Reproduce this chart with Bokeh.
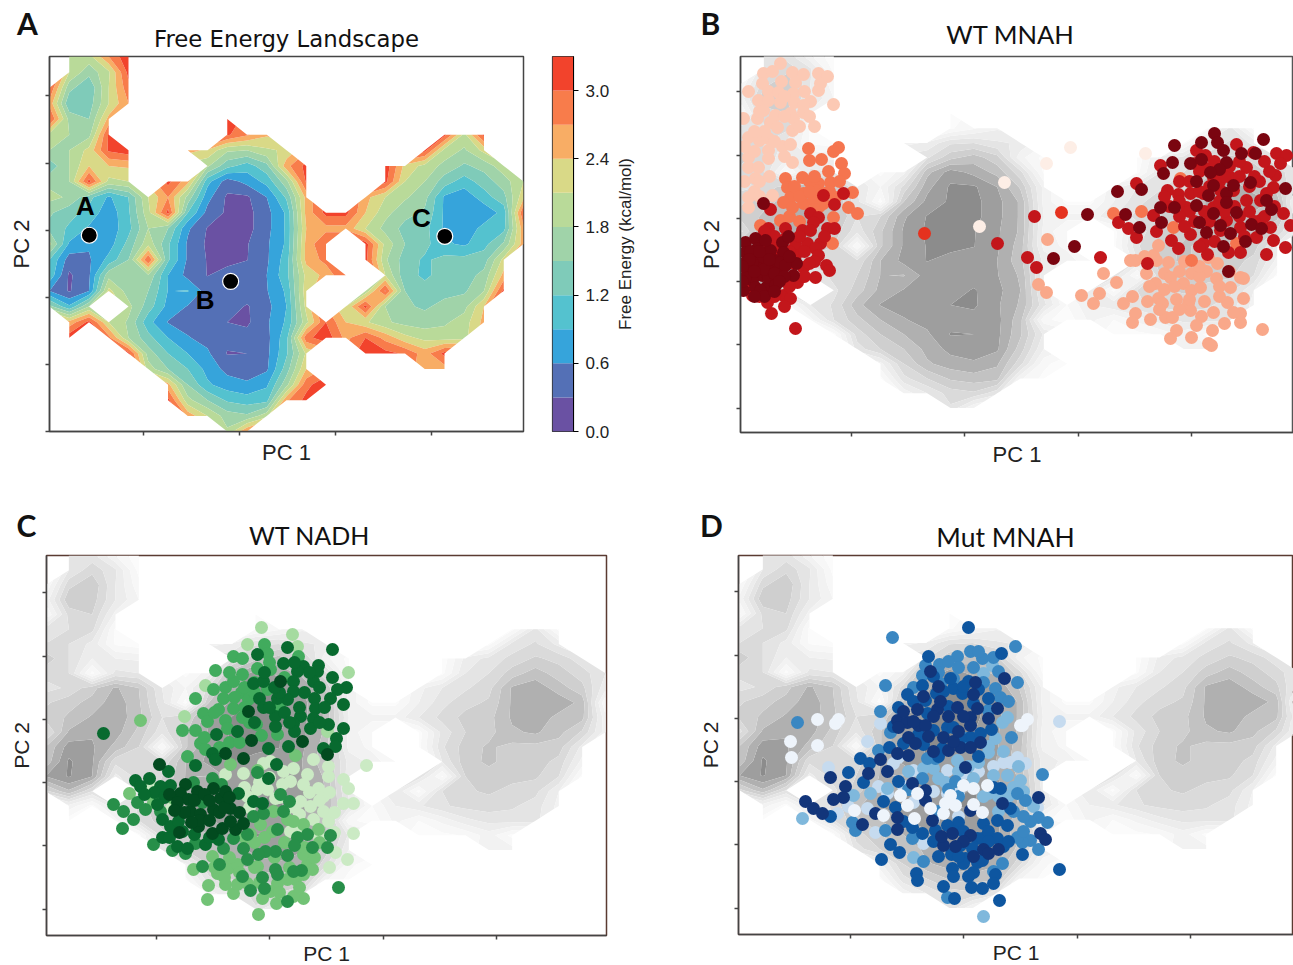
import numpy as np
from bokeh.embed import file_html
from bokeh.resources import INLINE
from bokeh.plotting import figure
from bokeh.layouts import row, column
from bokeh.models import FixedTicker, Label, Range1d, NumeralTickFormatter, CustomJSTickFormatter
from bokeh.core.properties import value

n = float("nan")
ENERGY = [
 [n,1.9,2.0,2.7,3.25]+[n]*20,
 [n,2.1,1.6,2.05,3.1]+[n]*20,
 [3.0,1.6,1.25,2.1,2.9]+[n]*20,
 [2.6,1.25,1.35,2.1,2.7]+[n]*20,
 [3.05,1.7,1.5,2.5]+[n]*5+[3.2]+[n]*15,
 [2.0,1.8,1.7,3.05]+[n]*5+[3.05,2.75,2.45]+[n]*8+[3.1,2.0,3.1,n,n],
 [1.8,1.8,2.2,3.05,3.2,n,n,2.5,2.35,1.85,1.8,2.05,2.15]+[n]*6+[3.1,2.0,1.75,2.2,n,n],
 [1.3,1.8,2.4,2.4,2.45,n,n,n,1.85,1.3,1.05,1.4,2.6,3.1,n,n,n,3.2,2.3,2.0,1.7,1.45,1.6,2.0,n],
 [1.7,1.8,3.1,2.0,2.1,n,3.1,2.5,1.0,.45,.7,1.0,1.7,3.05,n,n,n,3.1,2.1,1.8,1.35,1.05,1.35,1.65,2.1],
 [1.9,1.75,1.3,.85,1.2,2.1,2.7,1.7,.7,.25,.25,.6,1.25,2.5,n,n,2.5,2.1,1.85,1.6,.85,.7,1.05,1.4,2.3],
 [1.55,1.3,1.1,.7,1.15,2.0,3.1,1.2,.5,.25,.2,.5,.95,2.5,3.1,3.1,2.4,1.9,1.6,1.45,.85,.65,.7,1.0,3.0],
 [1.4,1.15,.85,.7,1.1,1.8,1.5,.65,.28,.2,.2,.5,.95,2.4,2.6,2.6,2.1,1.7,1.4,1.3,.85,.7,1.0,1.1,2.6],
 [1.9,.85,.65,.75,1.3,2.0,1.25,.55,.25,.2,.28,.55,.95,2.5,3.0,n,3.15,2.0,1.5,1.3,.95,.85,1.1,1.55,2.55],
 [1.2,.45,.55,1.0,1.5,3.0,1.25,.55,.28,.22,.29,.55,1.05,2.5,2.8,n,3.1,1.85,1.35,1.15,1.3,1.3,1.35,2.2,n],
 [1.1,.25,.55,1.7,1.7,1.75,.9,.5,.29,.4,.45,.6,1.1,2.2,2.5,3.0,n,2.1,1.3,1.15,1.3,1.35,1.6,2.5,n],
 [.6,.27,.6,2.2,1.65,1.5,.89,.92,.45,.45,.48,.58,.95,2.3,n,n,1.9,3.05,1.5,1.3,1.4,1.45,1.8,3.1,n],
 [1.6,.95,1.8,n,1.9,1.35,.8,.58,.45,.45,.27,.5,.9,2.2,n,2.1,3.1,1.8,1.55,1.45,1.6,1.7,2.4,n,n],
 [n,2.5,3.1,2.1,1.75,1.0,.58,.5,.45,.3,.25,.55,.95,2.0,3.0,2.4,2.15,1.85,1.7,1.65,1.75,1.95,2.5,n,n],
 [n,3.2,n,2.8,1.8,1.3,.9,.62,.5,.4,.4,.5,1.1,2.9,3.2,2.6,3.0,2.6,2.2,2.0,1.95,2.0,n,n,n],
 [n,n,n,n,3.1,1.65,1.2,.9,.65,.28,.3,.52,1.15,2.15,n,n,3.2,3.1,2.95,2.55,3.1,n,n,n,n],
 [n]*5+[1.95,1.5,1.2,.8,.5,.45,.55,1.35,2.4]+[n]*5+[2.5,2.55]+[n]*4,
 [n]*6+[2.5,1.5,.95,.75,.65,.85,1.7,2.9,3.25]+[n]*10,
 [n]*6+[3.1,1.9,1.5,1.15,1.05,1.1,2.65,3.1]+[n]*11,
 [n]*7+[2.6,2.1,1.65,1.55,2.0]+[n]*13,
 [n]*9+[1.85,2.7]+[n]*14,
]
LEVELS = [0.0,0.3,0.6,0.9,1.2,1.5,1.8,2.1,2.4,2.7,3.0,3.3]
SPECTRAL = ["#6a51a3","#5470b6","#36a4db","#54c2cf","#7fcbb9","#a0d3a9","#b9da99","#d9d987","#f8ad65","#f87c4b","#f2432c"]
GREYS = ["#8c8c8c","#9e9e9e","#b0b0b0","#c2c2c2","#cfcfcf","#dadada","#e4e4e4","#ececec","#f2f2f2","#f7f7f7","#fbfbfb"]
TICKS_X = [-113.5,0,113.5,227]
TICKS_Y = [-126.5,-63.2,0,63.2,126.5,190]
CBAR_TICKS = [0.0,0.6,1.2,1.8,2.4,3.0]

SITES = {"A":(-177,58.5),"B":(-10,15),"C":(243,57.5)}
SITE_LABELS = {"A":(-181.5,86),"B":(-40,-3),"C":(215.5,75)}

# Panel B: WT MNAH
B_pale = [(106,134),(181,128),(82,118),(40,99),(15,55)]
B_peach = [(-184,218),(-201,208),(-192,210),(-172,209),(-161,207),(-146,208),(-137,205),(-144,198),(-146,191),(-202,198),(-183,200),(-169,199),(-196,190),(-216,190),(-186,189),(-171,188),(-206,181),(-196,181),(-184,179),(-170,179),(-154,180),(-161,176),(-131,177),(-201,171),(-207,163),(-189,166),(-174,168),(-161,169),(-171,163),(-194,159),(-187,154),(-172,151),(-150,155),(-216,144),(-196,143),(-205,141),(-182,135),(-174,137),(-196,131),(-216,124),(-196,123),(-216,114),(-206,114),(-209,103),(-216,84),(-221,163),(-216,74),(-172,119),(-192,86),(-210,130),(-200,150),(-190,140),(-180,125),(-210,90),(-205,100),(-220,100),(-195,105),(-205,85),(-180,165),(-165,155),(-155,165),(-180,185),(-160,190),(-205,170),(-210,150),(-220,135)]
B_salmon = [(117,-14),(135,-12),(129,-22),(152,-1),(159,-22),(168,-15),(171,21),(183,-20),(194,-17),(198,-22),(212,-18),(191,-2),(200,8),(192,21),(189,26),(204,19),(219,-2),(227,8),(227,-9),(242,10),(236,-6),(224,-22),(249,-31),(263,-21),(279,-17),(266,-6),(276,4),(279,3),(253,18),(244,24),(171,-32),(168,-41),(186,-38),(201,-36),(208,-36),(237,-35),(232,-44),(248,-49),(260,-42),(276,-32),(269,-31),(276,-41),(212,-49),(206,-57),(227,-56),(244,-62),(247,-64),(298,-48),(82,-11),(74,-3),(139,8),(226,-29),(252,3),(206,4),(166,21),(182,8),(194,36),(83,42),(185,-5),(200,-8),(215,10),(235,5),(210,-5),(195,-28),(215,-28),(240,-20),(255,-15),(225,-18),(255,-5),(180,25),(220,20),(265,10),(235,15)]
B_orange = [(-156,133),(-126,134),(-131,130),(-155,121),(-143,122),(-123,118),(-136,110),(-120,108),(-162,104),(-179,103),(-177,94),(-134,99),(-146,98),(-161,88),(-149,91),(-174,84),(-181,79),(-161,78),(-141,78),(-116,74),(-107,68),(-131,64),(-172,74),(-184,61),(-204,56),(-112,89),(-132,38),(-151,81),(-129,84),(216,103),(177,70),(209,54),(227,21),(149,68),(272,38),(-170,95),(-155,100),(-165,85),(-150,105),(-140,88),(-145,75),(-155,90),(-175,65),(-165,60),(-150,72),(-135,90),(-125,100)]
B_scarlet = [(-40,48),(97,69)]
B_red = [(-141,86),(-121,88),(-130,77),(-194,72),(-154,68),(-146,64),(-151,59),(-137,53),(-130,53),(-162,51),(-196,53),(-179,53),(-154,51),(-179,43),(-169,36),(-157,38),(-144,38),(-196,39),(-189,34),(-149,33),(-146,26),(-161,14),(-138,16),(-135,11),(-149,4),(-167,-1),(-169,26),(-181,-14),(-174,-17),(-169,-47),(-193,-32),(-197,-21),(-212,-14),(33,38),(70,65),(63,24),(72,14),(136,24),(172,98),(196,116),(203,91),(214,87),(226,88),(232,131),(241,126),(272,137),(289,129),(312,128),(322,126),(316,118),(311,106),(309,94),(302,88),(296,81),(282,114),(266,104),(256,91),(249,104),(239,88),(222,74),(249,74),(262,61),(282,81),(269,91),(306,54),(292,44),(309,41),(321,34),(302,27),(276,29),(264,29),(243,27),(239,38),(226,47),(207,41),(214,33),(183,18),(192,50),(189,66),(154,59),(164,53),(172,44),(326,56),(319,68),(242,113),(231,118),(296,61),(276,54),(256,51),(215,100),(225,100),(235,90),(245,95),(255,100),(265,115),(275,105),(285,95),(295,100),(305,110),(215,80),(225,70),(240,70),(255,80),(270,75),(285,70),(300,65),(235,110),(250,120),(260,105),(275,120),(290,105),(300,120),(245,60),(260,70),(275,65),(290,60),(230,60),(215,65),(205,75),(200,85),(310,75),(280,45),(250,40),(235,35),(220,55),(-190,45),(-175,30),(-160,30),(-150,20),(-185,30),(-165,45),(-140,45),(-200,50),(-175,-5),(-160,5),(-155,18),(-190,-15),(-180,-25),(-205,-15),(-215,-5),(-170,18)]
B_dark = [(-201,78),(-219,39),(-209,43),(-219,29),(-207,33),(-182,39),(-176,45),(-181,29),(-209,21),(-201,21),(-192,14),(-216,13),(-202,6),(-186,11),(-212,1),(-171,6),(-168,18),(-198,-6),(-221,-9),(-209,-6),(-196,4),(-206,13),(-219,4),(-189,21),(-197,29),(-212,19),(-194,31),(-184,19),(-204,-9),(-189,-4),(-219,19),(-179,16),(-199,41),(123,67),(110,35),(89,23),(210,136),(250,148),(237,139),(208,119),(199,108),(226,118),(237,122),(253,139),(259,131),(277,128),(299,142),(291,128),(262,119),(255,112),(246,109),(232,100),(249,96),(244,86),(262,88),(269,96),(286,99),(262,79),(272,69),(249,68),(232,76),(210,74),(196,74),(153,90),(177,92),(161,67),(175,54),(197,59),(235,59),(242,49),(256,56),(266,48),(281,40),(287,57),(307,72),(321,93),(264,10),(259,35),(297,53),(302,81),(-214,30),(-200,12),(-190,8),(-180,5),(-210,10),(-195,22),(-205,30),(-215,22),(-185,0),(-200,-15),(-190,-10),(-175,25),(-222,15),(-222,0),(-210,-15)]

# Panel C: WT NADH
C_pale = [(-118,-4),(-98,-26),(-44,8),(-26,9),(-22,-14),(-20,-25),(-12,-7),(-6,19),(14,11),(21,1),(24,14),(38,8),(44,23),(59,16),(59,6),(74,3),(79,-6),(74,-21),(84,-21),(84,-51),(78,-77),(97,17),(49,-6),(54,-14),(41,-24),(31,-19),(34,-2),(30,-32),(44,-37),(59,-39),(54,-29),(-2,-7),(6,-16),(13,-2),(1,21),(34,-49),(21,-49),(0,5),(10,-15),(25,-25),(40,-10),(50,-18),(65,-30),(60,-10),(15,-30),(-10,0),(-25,-5),(30,-42),(50,-55),(65,-50),(66,-70),(60,-85)]
C_light = [(-8,155),(23,148),(-22,138),(28,136),(-64,97),(-85,66),(79,110),(58,51)]
C_mid = [(-129,62),(-140,-11),(-116,-20),(-96,-16),(-76,-87),(-61,-103),(-62,-117),(-44,-102),(-36,-111),(-11,-132),(7,-121),(34,-116),(24,-114),(-7,-116),(-32,-102),(-22,-101),(-52,-91),(-41,-86),(-57,-74),(-32,-82),(8,-101),(18,-97),(38,-82),(34,-72),(18,-37),(34,-42),(49,-47),(24,-39),(4,-29),(-9,-42),(-19,-52),(3,-49),(-12,-84),(26,-97),(34,-92),(43,-87),(1,-109),(26,27),(-39,18),(-12,12),(-40,-75),(-30,-90),(-15,-85),(5,-75),(20,-85),(-25,-55),(-5,-55),(15,-60),(35,-65),(50,-60),(-10,-100),(10,-110),(30,-105),(45,-75),(-45,-95),(-55,-85),(-15,-60)]
C_green = [(-5,138),(-36,126),(-27,124),(-54,112),(-74,84),(-66,69),(-56,93),(-44,95),(-27,108),(-36,101),(-62,61),(-87,52),(-74,52),(-69,39),(-82,26),(-12,114),(1,113),(-2,129),(29,126),(-28,90),(-46,84),(-51,73),(-44,62),(-27,65),(-13,58),(-8,47),(8,48),(-42,54),(-36,74),(-21,83),(-64,33),(-2,93),(-40,110),(-15,100),(0,120),(15,105),(-25,75),(-35,85),(-20,60),(-40,40),(-55,70),(-30,40),(-15,90),(10,75),(-65,45),(-50,35),(-25,95)]
C_strong = [(-76,0),(-57,4),(-48,-2),(-67,-20),(-156,-22),(-146,-29),(-136,-37),(-132,-20),(-124,-27),(-109,-29),(-147,-46),(-116,-62),(-97,-68),(-84,-71),(-74,-61),(-46,-66),(-36,-56),(-22,-52),(-16,-34),(-6,-31),(14,-29),(20,-19),(11,-12),(-12,10),(8,-47),(38,-52),(28,-55),(25,-63),(43,-65),(61,-53),(58,-65),(-22,-77),(-50,-82),(-67,-84),(-27,-94),(-19,-108),(-7,-95),(6,-87),(8,-92),(32,-88),(24,-89),(69,-105),(18,-119),(-5,-106),(6,-69),(18,-73),(-4,-69),(-26,-66),(-11,-72)]
C_dark = [(63,133),(-12,128),(18,135),(14,119),(34,116),(49,117),(48,111),(28,111),(24,101),(-16,99),(-6,101),(63,105),(44,101),(77,95),(68,93),(61,84),(74,78),(24,91),(18,83),(8,84),(-10,84),(-6,75),(45,84),(46,74),(31,66),(44,64),(6,66),(24,59),(59,58),(41,54),(74,54),(25,51),(6,56),(67,44),(66,36),(19,36),(-1,34),(54,34),(-32,51),(-53,48),(-57,29),(-54,23),(7,18),(-74,17),(-166,49),(-101,11),(-134,2),(-120,4),(-99,-3),(-109,-4),(-129,-4),(-107,-37),(-99,-44),(-91,-39),(-87,-49),(-107,-55),(-92,-64),(-82,-66),(-64,-62),(-51,-57),(-31,-11),(-16,-19),(-7,-21),(-1,4),(-115,-10),(-105,-15),(-100,-55),(-75,-52),(-112,-22),(-125,-12),(-60,-55),(10,90),(30,75),(15,70),(35,90),(55,75),(50,95),(40,110),(0,75),(-15,60),(5,95),(25,120),(-5,110),(20,60),(50,60)]
C_darkest = [(-21,71),(-18,42),(-26,24),(58,28),(33,41),(11,101),(-110,18),(-44,29),(-84,-2),(-89,-11),(-72,-9),(-56,-6),(-81,-17),(-49,-16),(-44,-9),(-39,-26),(-56,-27),(-79,-29),(-69,-32),(-71,-44),(-57,-51),(-47,-46),(-34,-47),(-26,-41),(-39,-39),(-100,-12),(-92,-20),(-75,-18),(-65,-12),(-60,-18),(-85,-30),(-70,-38),(-60,-38),(-50,-30),(-95,-28),(-78,-40),(-90,-50),(-45,-25),(-40,-15),(-30,-30)]

# Panel D: Mut MNAH
D_pale = [(96,60),(-83,58),(-96,40),(40,19),(47,19),(54,24),(62,18),(-96,-27),(-88,-51),(-76,-12),(-50,-21),(-126,-32),(-40,-62),(-70,18),(-50,11),(-16,11),(74,-26),(-16,-12),(-65,24),(-135,14),(-30,-10),(-5,-12),(0,8),(15,10),(-60,-5),(-85,-5),(-115,-25),(-30,-38),(-5,-35),(30,15)]
D_sky = [(20,108),(29,116),(39,59),(32,43),(25,29),(15,19),(-6,21),(44,64),(-161,-37),(-110,-14),(-50,-76),(20,-135),(25,-12),(10,3),(30,6),(44,6),(50,-6),(57,1),(-30,13),(-18,-1),(-40,13),(-93,-12),(-76,-7),(25,35),(40,30),(55,15),(45,-15),(35,-15),(20,-15),(-5,10),(-25,3),(5,15),(-55,10),(60,-10),(35,-30),(70,-25)]
D_blue = [(-71,144),(52,135),(7,130),(-6,125),(-24,117),(-5,114),(19,123),(30,124),(10,114),(-38,116),(-41,106),(-23,98),(-10,103),(20,99),(54,99),(32,93),(37,84),(25,71),(-78,96),(-83,70),(-166,59),(-73,49),(-85,31),(48,44),(-36,23),(-28,23),(2,43),(-50,94),(-25,109),(-108,-49),(-111,-41),(-78,-49),(-51,-57),(-40,-80),(30,-90),(39,-82),(75,-68),(67,-59),(84,-41),(75,-36),(67,-40),(59,-61),(54,-56),(62,-19),(54,-12),(79,7),(-41,3),(-8,0),(-16,-116),(35,110),(45,80),(-15,120),(15,130),(-25,-30),(-15,-8),(50,-30),(60,-35),(60,-50),(-5,-15),(-55,-8)]
D_strong = [(5,154),(-35,125),(38,128),(-41,96),(-56,87),(-65,74),(-38,81),(-27,88),(-10,93),(-1,88),(25,83),(-13,103),(10,78),(-16,54),(-10,54),(7,44),(28,52),(17,48),(-3,43),(-21,33),(-74,34),(-103,23),(-40,37),(-36,68),(-30,51),(-115,9),(-94,18),(-100,-1),(-65,0),(-68,-26),(-51,-46),(-41,-52),(-28,-49),(-5,-41),(20,-42),(34,-39),(44,-44),(47,-27),(37,-7),(30,-6),(-16,-44),(-3,-64),(14,-57),(9,-67),(19,-57),(34,-57),(59,-73),(2,-77),(14,-81),(10,-91),(19,-79),(0,-82),(-82,-78),(-64,-71),(-73,-63),(-47,-92),(-46,-99),(-20,-105),(-9,-117),(8,-106),(19,-107),(36,-119),(32,-93),(30,-102),(96,-88),(-11,-87),(-12,-73),(-133,-35),(-20,90),(5,100),(-50,80),(-15,75),(0,95),(15,92),(-30,105),(-45,47),(-25,25),(15,25),(-70,55),(-60,38),(-10,-50),(0,-50),(25,-50),(40,-65),(-5,-75),(25,-60),(5,-95),(-10,-95),(45,-60),(-30,-60),(-25,-75),(-60,-40),(-80,-20)]
D_navy = [(-33,110),(12,99),(41,103),(10,87),(34,73),(-66,61),(-56,59),(-46,72),(-65,54),(-45,56),(-38,56),(-26,72),(-6,74),(14,73),(7,64),(-55,44),(-48,38),(-20,44),(17,39),(7,56),(-23,80),(-83,22),(-55,26),(-66,28),(-15,31),(-3,34),(7,34),(-158,-20),(-150,-27),(-141,-32),(-133,4),(-118,-5),(-120,-16),(-130,-18),(-95,8),(-76,10),(-51,-2),(2,14),(-38,-9),(-38,-19),(-66,-36),(-66,-48),(-101,-43),(-88,-32),(-31,-39),(-11,-52),(-20,-64),(7,-54),(35,-68),(77,-52),(82,-58),(75,-16),(39,-22),(7,-29),(-30,65),(-15,65),(0,65),(-35,45),(-10,40),(-60,70),(-40,85),(-25,95),(-5,50),(25,63),(-50,60),(-30,30),(0,-60),(-8,-65),(20,-68),(10,-75),(-22,-55),(25,-72)]
D_white = [(-125,62),(-128,58),(-146,62),(-173,40),(-146,36),(-172,24),(59,56),(64,62),(57,56),(-109,-29),(-80,-34),(-49,-37),(-56,-24),(-33,-27),(-20,-32),(-8,-24),(10,-23),(19,-31),(24,-4),(10,-7),(0,-4),(-13,-14),(-18,-22),(-46,-12),(-63,-14)]

PANEL_B = [(B_pale,"#fdeee6"),(B_peach,"#fcc9b4"),(B_salmon,"#f9a88a"),(B_orange,"#f5754f"),(B_scarlet,"#e5321f"),(B_red,"#c3161b"),(B_dark,"#7a0510")]
PANEL_C = [(C_pale,"#cbeac4"),(C_light,"#a5dba0"),(C_mid,"#72c376"),(C_green,"#41ab5d"),(C_strong,"#278f49"),(C_dark,"#086a2f"),(C_darkest,"#024a1f")]
PANEL_D = [(D_pale,"#c6dbef"),(D_sky,"#7fb8dc"),(D_blue,"#3a87c2"),(D_strong,"#0e56a0"),(D_navy,"#12357a"),(D_white,"#eef4fb")]

xs = np.linspace(-224, 336, 25)
ys = np.linspace(227, -126.5, 25)
zs = np.array(ENERGY)

SANS = "Liberation Sans"
TITLE = "Lato"

def panel(x_range, y_range, fw, fh, left, right, top, bottom, fill, edge, ysoff=12, xsoff=3, xsize="22px"):
    p = figure(frame_width=fw, frame_height=fh, x_range=Range1d(*x_range), y_range=Range1d(*y_range),
               min_border_left=left, min_border_right=right, min_border_top=top, min_border_bottom=bottom,
               output_backend="svg", toolbar_location=None, background_fill_color="white",
               x_axis_label="PC 1", y_axis_label="PC 2")
    p.grid.visible = False
    p.outline_line_color = edge
    p.outline_line_width = 1.5
    for ax, tk, so in ((p.xaxis[0], TICKS_X, xsoff), (p.yaxis[0], TICKS_Y, ysoff)):
        ax.ticker = FixedTicker(ticks=tk)
        ax.formatter = CustomJSTickFormatter(code="return ''")
        ax.major_label_text_font_size = "1px"
        ax.major_label_standoff = 0
        ax.axis_label_standoff = so
        ax.axis_label_text_font = SANS
        ax.axis_label_text_font_size = xsize
        ax.axis_label_text_font_style = "normal"
        ax.axis_label_text_color = "#222222"
        ax.axis_line_color = "#444444"
        ax.axis_line_width = 1.5
        ax.major_tick_line_color = "#444444"
        ax.major_tick_line_width = 1.5
        ax.major_tick_out = 4
        ax.major_tick_in = 0
        ax.minor_tick_line_color = None
    p.contour(xs, ys, zs, LEVELS, fill_color=fill, line_color=None)
    return p

def dots(p, groups):
    for pts, col in groups:
        p.scatter([a for a, _ in pts], [b for _, b in pts], size=13, marker="circle", fill_color=col, line_color=None)

def side_label(p, text, x, y, font, size, style):
    p.add_layout(Label(x=x, y=y, x_units="canvas", y_units="canvas", text=text, text_font=font, text_font_style=style,
                       text_font_size=size, text_align="center", text_baseline="middle", text_color="#111111"), "above")

pA = panel((-224,336),(-126.5,227),474,375,49,7,68,49,SPECTRAL,"#444444",ysoff=12,xsoff=4)
side_label(pA,"Free Energy Landscape",286,50,"DejaVu Sans","22.8px","normal")
side_label(pA,"A",27,34,TITLE,"30px","bold")
pA.scatter([v[0] for v in SITES.values()],[v[1] for v in SITES.values()],size=16,marker="circle",fill_color="black",line_color="white",line_width=1.2)
pA.text([v[0] for v in SITE_LABELS.values()],[v[1] for v in SITE_LABELS.values()],text=list(SITE_LABELS.keys()),
        text_font=value("Liberation Sans"),text_font_style="bold",text_font_size="26px",text_align="center",text_baseline="middle",text_color="black")

cb = figure(frame_width=21, frame_height=375, x_range=Range1d(0,1), y_range=Range1d(0,3.3), y_axis_location="right",
            min_border_left=22, min_border_right=39, min_border_top=68, min_border_bottom=49,
            output_backend="svg", toolbar_location=None)
cb.quad(left=0,right=1,bottom=LEVELS[:-1],top=LEVELS[1:],fill_color=SPECTRAL,line_color=None)
cb.grid.visible=False
cb.xaxis.visible=False
cb.outline_line_color="#333333"
cb.outline_line_width=1.2
a=cb.yaxis[0]
a.ticker=FixedTicker(ticks=CBAR_TICKS)
a.formatter=NumeralTickFormatter(format="0.0")
a.major_label_text_font=SANS
a.major_label_text_font_size="17px"
a.major_label_text_color="#222222"
a.major_tick_out=5
a.major_tick_in=0
a.minor_tick_line_color=None
a.major_label_standoff=7

cbl = figure(frame_width=1, frame_height=375, x_range=Range1d(0,1), y_range=Range1d(0,3.3),
             min_border_left=24, min_border_right=53, min_border_top=68, min_border_bottom=49,
             output_backend="svg", toolbar_location=None, y_axis_label="Free Energy (kcal/mol)")
cbl.grid.visible=False
cbl.xaxis.visible=False
cbl.outline_line_color=None
b=cbl.yaxis[0]
b.ticker=FixedTicker(ticks=[])
b.axis_line_color=None
b.major_tick_line_color=None
b.minor_tick_line_color=None
b.axis_label_standoff=2
b.axis_label_text_font=SANS
b.axis_label_text_font_size="17px"
b.axis_label_text_font_style="normal"
b.axis_label_text_color="#222222"

pB = panel((-224,329),(-151,225),553,376,50,0,68,48,GREYS,"#555555",ysoff=13,xsoff=5)
side_label(pB,"WT MNAH",320,45,TITLE,"25.6px","normal")
side_label(pB,"B",20,34,TITLE,"30px","bold")
dots(pB,PANEL_B)
pC = panel((-223,337),(-153,227),560,380,46,84,74,31,GREYS,"#5a3b32",ysoff=10,xsoff=2,xsize="21px")
side_label(pC,"WT NADH",309,54,TITLE,"25px","normal")
side_label(pC,"C",26,44,TITLE,"30px","bold")
dots(pC,PANEL_C)
pD = panel((-225,330),(-153,226),555,379,48,0,75,31,GREYS,"#5a3b32",ysoff=13,xsoff=2,xsize="21px")
side_label(pD,"Mut MNAH",315,56,TITLE,"26.5px","normal")
side_label(pD,"D",21,44,TITLE,"30px","bold")
dots(pD,PANEL_D)

top_row = row(pA,cb,cbl,pB,spacing=0,styles={"margin-top":"-12px"})
layout = column(top_row,row(pC,pD,spacing=0),spacing=0)
open("out.html","w").write(file_html(layout,INLINE))
